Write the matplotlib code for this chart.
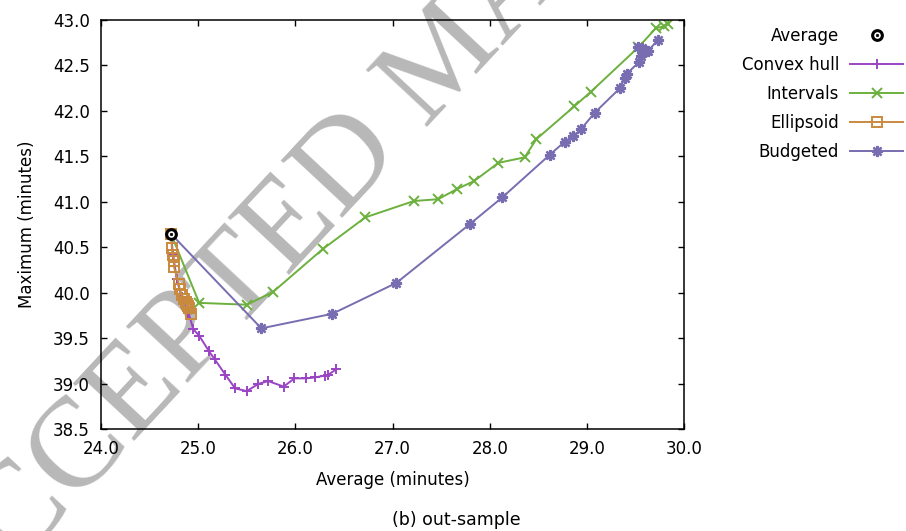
import matplotlib
matplotlib.use('Agg')
import matplotlib.pyplot as plt
from matplotlib.ticker import MultipleLocator, FormatStrFormatter

# ---- data ----
avg_x = [24.72]
avg_y = [40.65]

hull_x = [24.72, 24.74, 24.78, 24.83, 24.90, 24.95, 25.01, 25.11, 25.17, 25.28, 25.38,
          25.50, 25.62, 25.72, 25.88, 25.99, 26.11, 26.20, 26.30, 26.34, 26.42]
hull_y = [40.65, 40.43, 40.15, 39.95, 39.78, 39.60, 39.53, 39.36, 39.27, 39.10, 38.95,
          38.92, 39.00, 39.03, 38.97, 39.06, 39.06, 39.07, 39.09, 39.10, 39.16]

int_x = [24.72, 25.01, 25.50, 25.77, 26.28, 26.72, 27.22, 27.47, 27.66, 27.84, 28.09,
         28.36, 28.48, 28.87, 29.04, 29.53, 29.71, 29.79, 29.84]
int_y = [40.65, 39.89, 39.87, 40.01, 40.48, 40.83, 41.01, 41.03, 41.14, 41.23, 41.43,
         41.49, 41.69, 42.05, 42.21, 42.70, 42.91, 42.93, 42.96]

ell_x = [24.72, 24.73, 24.74, 24.75, 24.75, 24.80, 24.81, 24.83, 24.85, 24.87, 24.88,
         24.90, 24.91, 24.93]
ell_y = [40.65, 40.49, 40.42, 40.35, 40.29, 40.10, 40.04, 39.98, 39.93, 39.90, 39.88,
         39.86, 39.83, 39.77]

bud_x = [24.72, 25.65, 26.38, 27.04, 27.80, 28.13, 28.62, 28.77, 28.86, 28.94, 29.08,
         29.34, 29.39, 29.41, 29.54, 29.56, 29.53, 29.57, 29.61, 29.63, 29.73]
bud_y = [40.65, 39.61, 39.77, 40.11, 40.76, 41.05, 41.52, 41.66, 41.72, 41.80, 41.98,
         42.25, 42.36, 42.41, 42.54, 42.60, 42.70, 42.69, 42.66, 42.66, 42.78]

labels = ["Average", "Convex hull", "Intervals", "Ellipsoid", "Budgeted"]
x_label = "Average (minutes)"
y_label = "Maximum (minutes)"
caption = "(b) out-sample"
watermark = "ACCEPTED MANUSCRIPT"

c_hull = '#9a45c4'
c_int = '#6cb03e'
c_ell = '#c98a3e'
c_bud = '#776db0'

fig = plt.figure(figsize=(9.06, 5.31), dpi=100)

fig.text(0.494, 0.887, watermark, rotation=47, rotation_mode='anchor',
         ha='center', va='center', fontsize=92, family='Liberation Serif',
         color='#b8b8b8', zorder=-5)

ax = fig.add_axes([0.1115, 0.1915, 0.6435, 0.7708])
ax.patch.set_alpha(0)

h_hull, = ax.plot(hull_x, hull_y, color=c_hull, lw=1.4, marker='+', ms=6.5, mew=1.4)
h_int, = ax.plot(int_x, int_y, color=c_int, lw=1.4, marker='x', ms=7, mew=1.4)
h_ell, = ax.plot(ell_x, ell_y, color=c_ell, lw=1.4, marker='s', ms=6.5, mew=1.4,
                 mfc='none')
h_bud, = ax.plot(bud_x, bud_y, color=c_bud, lw=1.4, marker=(8, 2, 0), ms=8, mew=1.7)
h_avg1, = ax.plot(avg_x, avg_y, ls='none', marker='o', ms=7, mfc='white',
                  mec='black', mew=2.2, zorder=5)
h_avg2, = ax.plot(avg_x, avg_y, ls='none', marker='o', ms=1.8, mfc='black',
                  mec='black', mew=0.5, zorder=6)

ax.set_xlim(24.0, 30.0)
ax.set_ylim(38.5, 43.0)
ax.xaxis.set_major_locator(MultipleLocator(1.0))
ax.yaxis.set_major_locator(MultipleLocator(0.5))
ax.xaxis.set_major_formatter(FormatStrFormatter('%.1f'))
ax.yaxis.set_major_formatter(FormatStrFormatter('%.1f'))
ax.tick_params(direction='in', top=True, right=True, length=4.5, width=1.0,
               labelsize=12, pad=8)
for s in ax.spines.values():
    s.set_linewidth(1.1)

ax.set_xlabel(x_label, fontsize=12, labelpad=9)
ax.set_ylabel(y_label, fontsize=12, labelpad=12)

fig.text(0.504, 0.021, caption, ha='center', va='center', fontsize=12.5)

leg = fig.legend([(h_avg1, h_avg2), h_hull, h_int, h_ell, h_bud], labels,
                 loc='upper right', bbox_to_anchor=(0.997, 0.95),
                 frameon=False, markerfirst=False, fontsize=12,
                 handlelength=3.2, handletextpad=0.65, labelspacing=0.66,
                 borderpad=0, borderaxespad=0)

fig.savefig('out.png', dpi=100)
